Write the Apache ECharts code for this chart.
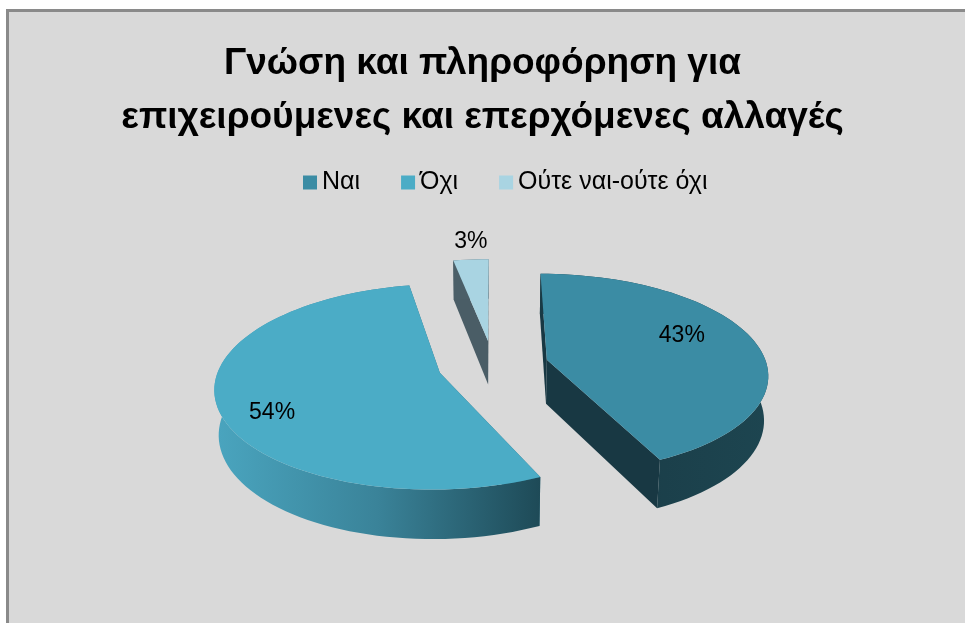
<!DOCTYPE html>
<html>
<head>
<meta charset="utf-8">
<script src="https://cdn.jsdelivr.net/npm/echarts@6/dist/echarts.min.js"></script>
<style>
html,body{margin:0;padding:0;background:#ffffff;}
#chart{width:965px;height:623px;}
</style>
</head>
<body>
<div id="chart"></div>
<script>
// ---- data ----
const titleText = 'Γνώση και πληροφόρηση για\nεπιχειρούμενες και επερχόμενες αλλαγές';
const categories = ['Ναι', 'Όχι', 'Ούτε ναι-ούτε όχι'];
const values = [43, 54, 3];

// ---- styles ----
const topColors = ['#3b8ca4', '#4bacc6', '#a9d4e2'];
const wallColors = [
  ['#193a45', '#1d4550'],
  ['#4aa5bf', '#3a8399', '#1e4a57'],
  ['#4b5f68', '#4b5f68']
];
const radialColors = ['#183843', '#2a6f82', '#4a5d66'];
const labelR = [0.65, 0.76, 1];
const labelDy = [-10, 15, 0];
const FONT = '"Liberation Sans", Arial, sans-serif';

// projection parameters (3-D look of the pie)
const sinA = 0.449, cosA = 0.894, Dcam = 6.66, depth = 0.229, explode = 0.252;

const total = values.reduce((a, b) => a + b, 0);
const cumStart = [];
values.reduce((acc, v, i) => { cumStart[i] = acc; return acc + v; }, 0);

function renderSlice(params, api) {
  const i = params.seriesIndex;
  const v = api.value(0);
  const W = api.getWidth(), H = api.getHeight();
  const cx = W * 0.511, cy = H * 0.586, S = W * 0.228;
  const th1 = cumStart[i] / total * Math.PI * 2;
  const th2 = (cumStart[i] + v) / total * Math.PI * 2;
  const mid = (th1 + th2) / 2;
  const ox = explode * Math.sin(mid), oy = explode * Math.cos(mid);
  function P(r, th, z) {
    const X = ox + r * Math.sin(th);
    const Y = oy + r * Math.cos(th);
    const dist = Dcam + Y * cosA - z * sinA;
    const f = Dcam / dist;
    return [cx + X * S * f, cy - (Y * sinA + z * cosA) * S * f];
  }
  const N = Math.max(3, Math.ceil((th2 - th1) / (Math.PI * 2) * 160));
  const topArc = [], botArc = [];
  for (let k = 0; k <= N; k++) {
    const t = th1 + (th2 - th1) * k / N;
    topArc.push(P(1, t, 0));
    botArc.push(P(1, t, -depth));
  }
  const aT = P(0, 0, 0), aB = P(0, 0, -depth);
  const wc = wallColors[i];
  const stops = wc.map((c, k) => ({ offset: wc.length === 1 ? 0 : k / (wc.length - 1), color: c }));
  const children = [
    { type: 'polygon', shape: { points: [aT, topArc[0], botArc[0], aB] }, style: { fill: radialColors[i] } },
    { type: 'polygon', shape: { points: [aT, topArc[N], botArc[N], aB] }, style: { fill: radialColors[i] } },
    { type: 'polygon', shape: { points: topArc.concat(botArc.slice().reverse()) },
      style: { fill: new echarts.graphic.LinearGradient(0, 0, 1, 0, stops) } },
    { type: 'polygon', shape: { points: [aT].concat(topArc) }, style: { fill: topColors[i] } }
  ];
  const pct = Math.round(v / total * 100) + '%';
  const p = P(labelR[i], mid, 0);
  const outside = labelR[i] >= 1;
  children.push({ type: 'text', x: p[0], y: p[1] + labelDy[i] + (outside ? -6 : 0),
    style: { text: pct, fill: '#000', font: '23px ' + FONT, align: 'center',
             verticalAlign: outside ? 'bottom' : 'middle' } });
  return { type: 'group', children };
}

const chart = echarts.init(document.getElementById('chart'), null, { renderer: 'canvas' });
const seriesByIndex = categories.map((c, i) => ({
  type: 'custom',
  name: c,
  coordinateSystem: 'none',
  renderItem: renderSlice,
  itemStyle: { color: topColors[i] },
  data: [[values[i]]]
}));

chart.setOption({
  animation: false,
  backgroundColor: '#ffffff',
  graphic: [{
    type: 'rect', z: -10, silent: true,
    shape: { x: 7.5, y: 10.5, width: 1000, height: 700 },
    style: { fill: '#d9d9d9', stroke: '#8a8a8a', lineWidth: 3 }
  }],
  title: {
    text: titleText,
    left: 'center',
    top: 32,
    textStyle: { fontFamily: FONT, fontSize: 37, fontWeight: 'bold', color: '#000', lineHeight: 54 }
  },
  legend: {
    top: 165,
    left: 298,
    icon: 'rect',
    itemWidth: 14,
    itemHeight: 14,
    itemGap: 41,
    data: categories,
    textStyle: { fontFamily: FONT, fontSize: 25, color: '#000' }
  },
  series: seriesByIndex
});
</script>
</body>
</html>
